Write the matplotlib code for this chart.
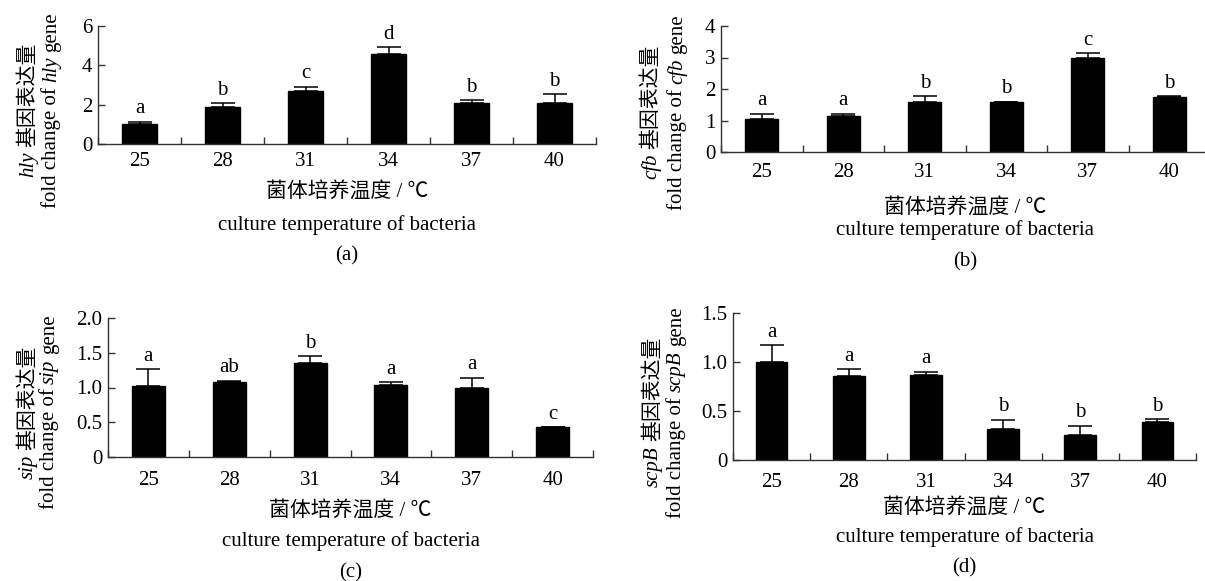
import matplotlib
matplotlib.use("Agg")
import matplotlib.pyplot as plt
import numpy as np

plt.rcParams['font.family'] = ['Liberation Serif', 'Noto Sans CJK SC', 'DejaVu Sans']

temps = ["25", "28", "31", "34", "37", "40"]

hly_mean = [1.00, 1.87, 2.71, 4.56, 2.07, 2.07]
hly_err = [0.13, 0.20, 0.20, 0.36, 0.17, 0.46]
hly_sig = ["a", "b", "c", "d", "b", "b"]

cfb_mean = [1.04, 1.14, 1.60, 1.60, 2.99, 1.74]
cfb_err = [0.18, 0.08, 0.18, 0.0, 0.14, 0.04]
cfb_sig = ["a", "a", "b", "b", "c", "b"]

sip_mean = [1.02, 1.08, 1.35, 1.03, 0.99, 0.43]
sip_err = [0.24, 0.02, 0.10, 0.05, 0.15, 0.0]
sip_sig = ["a", "ab", "b", "a", "a", "c"]

scpb_mean = [1.00, 0.86, 0.87, 0.32, 0.26, 0.39]
scpb_err = [0.17, 0.07, 0.03, 0.09, 0.09, 0.03]
scpb_sig = ["a", "a", "a", "b", "b", "b"]

FS = 15
W, H = 1205, 581
fig = plt.figure(figsize=(W/100, H/100), dpi=100)
renderer = fig.canvas.get_renderer()


def px_rect(left, right, top, bottom):
    # pixel box (from top-left) -> figure fraction rect
    return [left/W, 1 - bottom/H, (right - left)/W, (bottom - top)/H]


def vline_text(pieces, cx, cy, gap=5):
    # rotated label built from (text, style) pieces, centred at pixel cx, cy
    objs, lens = [], []
    for s, style in pieces:
        t = fig.text(0, 0, s, rotation=90, rotation_mode='anchor',
                     ha='left', va='baseline', fontsize=FS, fontstyle=style)
        objs.append(t)
        lens.append(t.get_window_extent(renderer).height)
    total = sum(lens) + gap*(len(pieces) - 1)
    y = cy + total/2
    for t, ln in zip(objs, lens):
        t.set_position(((cx + 6)/W, 1 - y/H))
        y -= ln + gap


def panel(rect, gene, mean, err, sig, ymax, yticks, yticklabels, tag,
          ylab, offs):
    ax = fig.add_axes(rect)
    x = np.arange(len(temps))
    ax.bar(x, mean, width=0.41, color='black', edgecolor='black')
    ax.errorbar(x, mean, yerr=[np.zeros(len(err)), err], fmt='none',
                ecolor='black', elinewidth=1.1, capsize=8.5, capthick=1.1)
    for xi, m, e, s in zip(x, mean, err, sig):
        ax.annotate(s, (xi, m + e), xytext=(0, 6), textcoords='offset points',
                    ha='center', va='baseline', fontsize=FS)
    ax.set_xlim(-0.5, len(temps) - 0.5)
    ax.set_ylim(0, ymax)
    ax.set_xticks(np.arange(len(temps) + 1) - 0.5)
    ax.set_xticklabels([])
    ax.set_xticks(x, minor=True)
    ax.set_xticklabels(temps, minor=True, fontsize=FS)
    ax.tick_params(axis='x', which='major', direction='in', length=5,
                   width=1, color='#333333')
    ax.tick_params(axis='x', which='minor', length=0,
                   pad=(offs[0] - 11) * 0.72)
    ax.set_yticks(yticks)
    ax.set_yticklabels(yticklabels, fontsize=FS)
    ax.tick_params(axis='y', direction='in', length=5, width=1,
                   color='#333333', pad=4)
    for side in ['top', 'right']:
        ax.spines[side].set_visible(False)
    for side in ['left', 'bottom']:
        ax.spines[side].set_linewidth(1.0)
        ax.spines[side].set_color('#333333')
    x1, x2, cy = ylab
    vline_text([(gene, 'italic'), ("基因表达量", 'normal')], x1, cy)
    vline_text([("fold change of", 'normal'), (gene, 'italic'),
                ("gene", 'normal')], x2, cy)
    texts = ["菌体培养温度 / ℃", "culture temperature of bacteria", tag]
    for t, o in zip(texts, offs[1:]):
        ax.annotate(t, (0.5, 0), xycoords='axes fraction',
                    xytext=(0, -o * 0.72), textcoords='offset points',
                    ha='center', va='center', fontsize=FS)
    return ax


panel(px_rect(98, 596, 26, 144), "hly", hly_mean, hly_err, hly_sig,
      6, [0, 2, 4, 6], ["0", "2", "4", "6"], "(a)", (27, 50, 110),
      [19, 48, 81, 112])
panel(px_rect(721, 1210, 26, 152), "cfb", cfb_mean, cfb_err, cfb_sig,
      4, [0, 1, 2, 3, 4], ["0", "1", "2", "3", "4"], "(b)", (650, 676, 112),
      [22, 56, 78, 110])
panel(px_rect(108, 593, 318, 457), "sip", sip_mean, sip_err, sip_sig,
      2.0, [0, 0.5, 1.0, 1.5, 2.0], ["0", "0.5", "1.0", "1.5", "2.0"], "(c)",
      (27, 48, 412), [25, 54, 84, 116])
panel(px_rect(733, 1196, 313, 460), "scpB", scpb_mean, scpb_err,
      scpb_sig, 1.5, [0, 0.5, 1.0, 1.5], ["0", "0.5", "1.0", "1.5"], "(d)",
      (652, 675, 412), [24, 48, 77, 108])

fig.savefig("out.png", dpi=100)
